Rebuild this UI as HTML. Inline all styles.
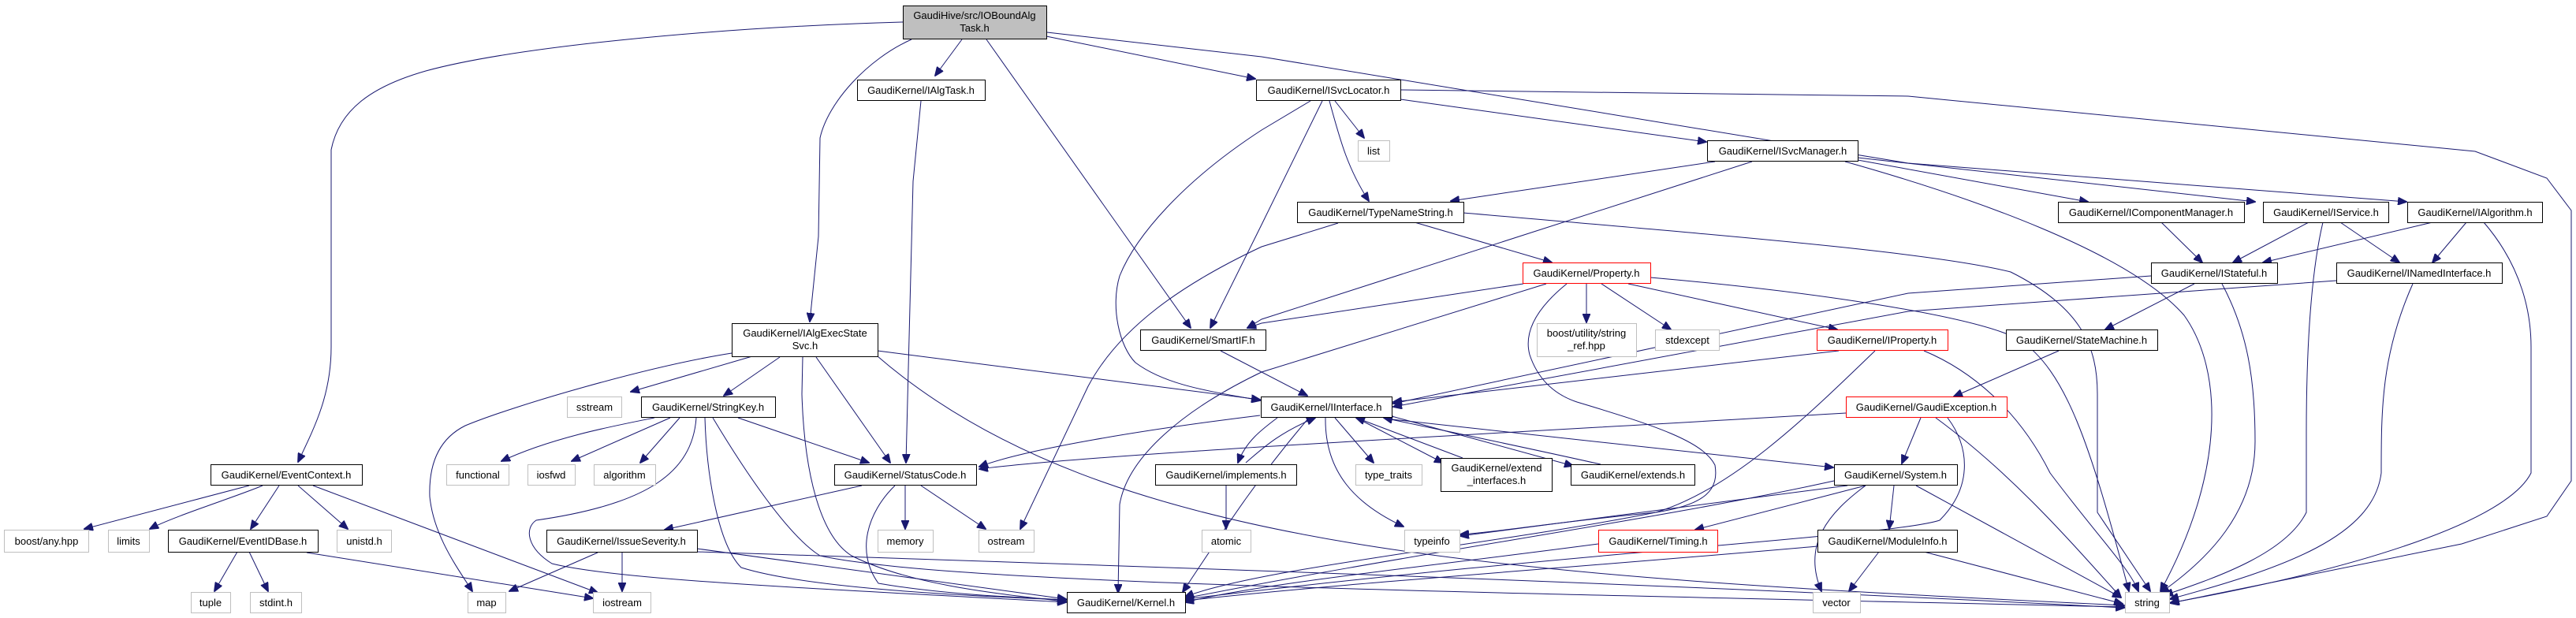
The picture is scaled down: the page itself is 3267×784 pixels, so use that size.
<!DOCTYPE html>
<html><head><meta charset="utf-8"><style>
html,body{margin:0;padding:0;background:#fff;}
svg{display:block;}
text{font-family:"Liberation Sans",sans-serif;font-size:13px;fill:#000;}
.e{fill:none;stroke:#191970;stroke-width:1;}
</style></head><body>
<svg width="3267" height="784" viewBox="0 0 3267 784" xmlns="http://www.w3.org/2000/svg">
<defs><marker id="a" markerWidth="12" markerHeight="10" refX="11" refY="5" orient="auto" markerUnits="userSpaceOnUse"><path d="M0,0 L12,5 L0,10 z" fill="#191970" stroke="#191970"/></marker></defs>
<g marker-end="url(#a)">
<path class="e" d="M1145,28 C900,35 650,60 540,90 C470,110 430,140 420,190 L420,440 C420,500 400,540 378,586"/>
<path class="e" d="M1220,50 L1186,96"/>
<path class="e" d="M1156,50 C1100,75 1050,130 1040,175 L1038,300 L1027,408"/>
<path class="e" d="M1251,50 L1510,416"/>
<path class="e" d="M1327,46 L1592,100"/>
<path class="e" d="M1328,41 L1600,72 L2420,207 L3052,256"/>
<path class="e" d="M1776,114 L2420,122 L3139,192 L3230,226 L3261,267 L3261,610 L3230,655 L3122,690 L2753,765"/>
<path class="e" d="M1693,128 L1730,175"/>
<path class="e" d="M1776,126 L2164,180"/>
<path class="e" d="M1686,128 C1700,180 1710,215 1736,255"/>
<path class="e" d="M1677,128 L1600,285 L1535,416"/>
<path class="e" d="M1662,128 L1600,165 C1500,230 1440,300 1420,350 C1408,390 1420,440 1440,460 C1480,490 1540,497 1598,508"/>
<path class="e" d="M1168,128 L1158,230 L1149,587"/>
<path class="e" d="M954,452 L800,497"/>
<path class="e" d="M928,448 C820,465 650,515 590,540 C550,560 544,600 545,630 C550,680 580,720 599,750"/>
<path class="e" d="M989,453 L918,502"/>
<path class="e" d="M1035,453 L1129,587"/>
<path class="e" d="M1113,445 L1598,507"/>
<path class="e" d="M1018,453 L1017,500 C1020,600 1040,680 1080,705 C1150,740 1250,752 1352,763"/>
<path class="e" d="M1113,452 C1400,700 1900,730 2694,768"/>
<path class="e" d="M830,530 C780,540 700,555 636,585"/>
<path class="e" d="M850,530 L725,585"/>
<path class="e" d="M862,530 L812,587"/>
<path class="e" d="M936,530 L1102,587"/>
<path class="e" d="M883,530 C878,600 820,640 680,660 C665,670 668,695 700,715 C780,735 1000,745 1352,764"/>
<path class="e" d="M894,530 C896,600 910,690 940,720 C1020,745 1200,755 1352,761"/>
<path class="e" d="M904,530 C946,600 1000,680 1040,705 C1200,740 1800,750 2694,770"/>
<path class="e" d="M1093,616 L843,672"/>
<path class="e" d="M1148,616 L1148,671"/>
<path class="e" d="M1168,616 L1250,671"/>
<path class="e" d="M1135,616 C1100,650 1085,700 1114,740 C1200,755 1300,758 1352,761"/>
<path class="e" d="M316,616 L107,671"/>
<path class="e" d="M333,616 C300,630 220,655 190,671"/>
<path class="e" d="M354,616 L318,671"/>
<path class="e" d="M378,616 L441,671"/>
<path class="e" d="M397,616 L758,752"/>
<path class="e" d="M301,700 L272,750"/>
<path class="e" d="M316,700 L340,750"/>
<path class="e" d="M389,701 L752,759"/>
<path class="e" d="M758,701 L646,750"/>
<path class="e" d="M789,701 L789,750"/>
<path class="e" d="M884,696 L1352,760"/>
<path class="e" d="M884,700 C1500,720 2100,740 2694,771"/>
<path class="e" d="M1548,445 L1658,502"/>
<path class="e" d="M2175,205 L1840,255"/>
<path class="e" d="M2222,205 L1600,405 L1582,416"/>
<path class="e" d="M2356,203 L2648,256"/>
<path class="e" d="M2356,200 L2860,256"/>
<path class="e" d="M2340,205 C2500,250 2700,320 2770,400 C2820,470 2822,600 2740,750"/>
<path class="e" d="M1856,270 C2200,300 2450,320 2550,345 C2640,390 2660,440 2660,500 L2660,650 L2727,750"/>
<path class="e" d="M1794,282 L1968,333"/>
<path class="e" d="M1697,283 L1600,313 C1500,360 1420,415 1380,490 L1294,671"/>
<path class="e" d="M2012,360 L2012,409"/>
<path class="e" d="M2031,360 L2119,418"/>
<path class="e" d="M2065,360 L2330,418"/>
<path class="e" d="M1932,360 L1600,410 L1582,416"/>
<path class="e" d="M1961,360 L1600,472 C1500,520 1430,580 1420,640 L1418,752"/>
<path class="e" d="M1987,360 C1950,390 1932,420 1940,450 C1950,480 1970,500 2000,510 C2100,540 2160,560 2175,590 C2180,620 2165,640 2100,650 C1950,665 1900,675 1852,678"/>
<path class="e" d="M2093,352 C2300,370 2500,400 2560,430 C2620,470 2650,560 2700,750"/>
<path class="e" d="M2332,445 L1767,510"/>
<path class="e" d="M2440,445 C2500,470 2560,520 2600,600 C2660,680 2700,720 2712,750"/>
<path class="e" d="M2378,445 C2300,520 2200,620 2100,650 C1900,690 1600,720 1503,757"/>
<path class="e" d="M1598,527 C1450,545 1300,570 1242,592"/>
<path class="e" d="M1620,530 C1600,545 1580,560 1570,587"/>
<path class="e" d="M1693,530 L1742,587"/>
<path class="e" d="M1720,530 L1830,587"/>
<path class="e" d="M1765,528 L1995,591"/>
<path class="e" d="M1765,532 L2325,593"/>
<path class="e" d="M1681,530 C1680,600 1720,640 1780,668"/>
<path class="e" d="M1660,530 C1600,600 1560,660 1500,751"/>
<path class="e" d="M1580,587 C1600,570 1620,550 1668,530"/>
<path class="e" d="M1855,581 C1800,560 1760,545 1720,530"/>
<path class="e" d="M2030,589 C1900,560 1800,540 1755,530"/>
<path class="e" d="M1555,616 L1555,671"/>
<path class="e" d="M2728,350 L2420,372 L1767,512"/>
<path class="e" d="M2783,360 L2670,418"/>
<path class="e" d="M2818,360 C2850,420 2860,480 2860,560 C2860,650 2800,710 2740,752"/>
<path class="e" d="M2963,356 L2420,395 L1767,516"/>
<path class="e" d="M3060,360 C3020,450 3020,520 3020,600 C3010,680 2900,720 2752,760"/>
<path class="e" d="M2741,282 L2793,333"/>
<path class="e" d="M2928,282 L2832,333"/>
<path class="e" d="M2968,282 L3043,333"/>
<path class="e" d="M2946,282 C2930,350 2925,450 2925,550 L2925,650 C2900,700 2820,730 2745,755"/>
<path class="e" d="M3085,282 L2870,333"/>
<path class="e" d="M3128,282 L3085,333"/>
<path class="e" d="M3150,282 C3200,340 3210,400 3210,440 L3210,600 C3180,660 3000,720 2752,765"/>
<path class="e" d="M2611,445 L2478,503"/>
<path class="e" d="M2341,524 C1900,550 1400,575 1242,595"/>
<path class="e" d="M2436,530 L2412,588"/>
<path class="e" d="M2455,530 C2550,600 2620,680 2690,758"/>
<path class="e" d="M2470,530 C2500,570 2500,620 2460,660 C2400,680 2000,700 1503,760"/>
<path class="e" d="M2366,616 L2150,672"/>
<path class="e" d="M2402,616 L2396,671"/>
<path class="e" d="M2366,616 C2320,650 2285,690 2310,750"/>
<path class="e" d="M2343,616 L1852,680"/>
<path class="e" d="M2430,616 L2690,758"/>
<path class="e" d="M2326,610 C2100,660 1800,700 1503,759"/>
<path class="e" d="M2383,700 L2345,750"/>
<path class="e" d="M2440,700 L2692,766"/>
<path class="e" d="M2305,693 C2000,720 1700,740 1503,762"/>
<path class="e" d="M2027,690 C1800,720 1600,740 1503,764"/>
</g>
<g stroke-width="1">
<rect x="1145.5" y="7.5" width="182" height="42" fill="#bfbfbf" stroke="#000"/>
<text x="1236" y="24" text-anchor="middle">GaudiHive/src/IOBoundAlg</text>
<text x="1236" y="40" text-anchor="middle">Task.h</text>
<g fill="#fff" stroke="#000">
<rect x="1087.5" y="101.5" width="162" height="26"/>
<rect x="1593.5" y="101.5" width="183" height="26"/>
<rect x="2165.5" y="178.5" width="191" height="26"/>
<rect x="1645.5" y="256.5" width="211" height="26"/>
<rect x="2610.5" y="256.5" width="236" height="26"/>
<rect x="2870.5" y="256.5" width="159" height="26"/>
<rect x="3053.5" y="256.5" width="171" height="26"/>
<rect x="2728.5" y="333.5" width="160" height="26"/>
<rect x="2963.5" y="333.5" width="210" height="26"/>
<rect x="928.5" y="410.5" width="185" height="42"/>
<rect x="1446.5" y="418.5" width="159" height="26"/>
<rect x="2544.5" y="418.5" width="192" height="26"/>
<rect x="813.5" y="503.5" width="170" height="26"/>
<rect x="1599.5" y="503.5" width="166" height="26"/>
<rect x="267.5" y="589.5" width="192" height="26"/>
<rect x="1058.5" y="589.5" width="180" height="26"/>
<rect x="1465.5" y="589.5" width="179" height="26"/>
<rect x="1827.5" y="581.5" width="141" height="42"/>
<rect x="1992.5" y="589.5" width="157" height="26"/>
<rect x="2326.5" y="589.5" width="156" height="26"/>
<rect x="213.5" y="672.5" width="190" height="28"/>
<rect x="693.5" y="672.5" width="191" height="28"/>
<rect x="2305.5" y="672.5" width="177" height="28"/>
<rect x="1353.5" y="751.5" width="150" height="26"/>
</g>
<g fill="#fff" stroke="#ff0000">
<rect x="1931.5" y="333.5" width="162" height="26"/>
<rect x="2304.5" y="418.5" width="166" height="26"/>
<rect x="2341.5" y="503.5" width="204" height="26"/>
<rect x="2027.5" y="672.5" width="151" height="28"/>
</g>
<g fill="#fff" stroke="#bfbfbf">
<rect x="1722.5" y="178.5" width="40" height="26"/>
<rect x="1949.5" y="410.5" width="126" height="42"/>
<rect x="2099.5" y="418.5" width="81" height="26"/>
<rect x="719.5" y="503.5" width="69" height="26"/>
<rect x="566.5" y="589.5" width="79" height="26"/>
<rect x="669.5" y="589.5" width="60" height="26"/>
<rect x="753.5" y="589.5" width="78" height="26"/>
<rect x="1719.5" y="589.5" width="84" height="26"/>
<rect x="5.5" y="672.5" width="107" height="28"/>
<rect x="137.5" y="672.5" width="52" height="28"/>
<rect x="427.5" y="672.5" width="69" height="28"/>
<rect x="1113.5" y="672.5" width="70" height="28"/>
<rect x="1241.5" y="672.5" width="70" height="28"/>
<rect x="1524.5" y="672.5" width="62" height="28"/>
<rect x="1781.5" y="672.5" width="70" height="28"/>
<rect x="242.5" y="751.5" width="50" height="26"/>
<rect x="317.5" y="751.5" width="65" height="26"/>
<rect x="593.5" y="751.5" width="48" height="26"/>
<rect x="752.5" y="751.5" width="73" height="26"/>
<rect x="2299.5" y="751.5" width="60" height="26"/>
<rect x="2695.5" y="751.5" width="56" height="26"/>
</g>
</g>
<g text-anchor="middle">
<text x="1168" y="119">GaudiKernel/IAlgTask.h</text>
<text x="1685" y="119">GaudiKernel/ISvcLocator.h</text>
<text x="2261" y="196">GaudiKernel/ISvcManager.h</text>
<text x="1742" y="196">list</text>
<text x="1751" y="274">GaudiKernel/TypeNameString.h</text>
<text x="2728" y="274">GaudiKernel/IComponentManager.h</text>
<text x="2950" y="274">GaudiKernel/IService.h</text>
<text x="3139" y="274">GaudiKernel/IAlgorithm.h</text>
<text x="2012" y="351">GaudiKernel/Property.h</text>
<text x="2808" y="351">GaudiKernel/IStateful.h</text>
<text x="3068" y="351">GaudiKernel/INamedInterface.h</text>
<text x="1021" y="427">GaudiKernel/IAlgExecState</text>
<text x="1021" y="443">Svc.h</text>
<text x="2012" y="427">boost/utility/string</text>
<text x="2012" y="443">_ref.hpp</text>
<text x="1526" y="436">GaudiKernel/SmartIF.h</text>
<text x="2140" y="436">stdexcept</text>
<text x="2387" y="436">GaudiKernel/IProperty.h</text>
<text x="2640" y="436">GaudiKernel/StateMachine.h</text>
<text x="754" y="521">sstream</text>
<text x="898" y="521">GaudiKernel/StringKey.h</text>
<text x="1682" y="521">GaudiKernel/IInterface.h</text>
<text x="2443" y="521">GaudiKernel/GaudiException.h</text>
<text x="363" y="607">GaudiKernel/EventContext.h</text>
<text x="606" y="607">functional</text>
<text x="699" y="607">iosfwd</text>
<text x="792" y="607">algorithm</text>
<text x="1148" y="607">GaudiKernel/StatusCode.h</text>
<text x="1555" y="607">GaudiKernel/implements.h</text>
<text x="1761" y="607">type_traits</text>
<text x="1898" y="598">GaudiKernel/extend</text>
<text x="1898" y="614">_interfaces.h</text>
<text x="2071" y="607">GaudiKernel/extends.h</text>
<text x="2404" y="607">GaudiKernel/System.h</text>
<text x="59" y="691">boost/any.hpp</text>
<text x="163" y="691">limits</text>
<text x="308" y="691">GaudiKernel/EventIDBase.h</text>
<text x="462" y="691">unistd.h</text>
<text x="788" y="691">GaudiKernel/IssueSeverity.h</text>
<text x="1148" y="691">memory</text>
<text x="1276" y="691">ostream</text>
<text x="1555" y="691">atomic</text>
<text x="1816" y="691">typeinfo</text>
<text x="2103" y="691">GaudiKernel/Timing.h</text>
<text x="2394" y="691">GaudiKernel/ModuleInfo.h</text>
<text x="267" y="769">tuple</text>
<text x="350" y="769">stdint.h</text>
<text x="617" y="769">map</text>
<text x="789" y="769">iostream</text>
<text x="1428" y="769">GaudiKernel/Kernel.h</text>
<text x="2329" y="769">vector</text>
<text x="2723" y="769">string</text>
</g>
</svg>
</body></html>
